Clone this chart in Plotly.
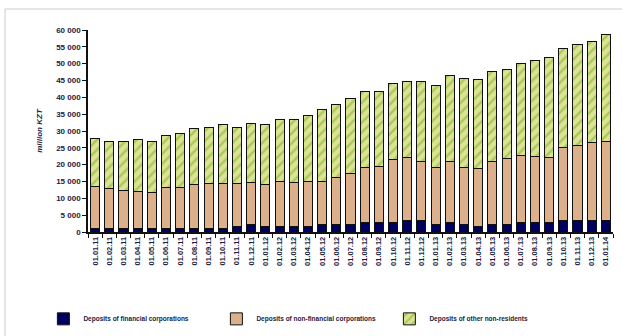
import plotly.graph_objects as go

# Monthly reporting dates
dates = ["01.01.11", "01.02.11", "01.03.11", "01.04.11", "01.05.11", "01.06.11",
         "01.07.11", "01.08.11", "01.09.11", "01.10.11", "01.11.11", "01.12.11",
         "01.01.12", "01.02.12", "01.03.12", "01.04.12", "01.05.12", "01.06.12",
         "01.07.12", "01.08.12", "01.09.12", "01.10.12", "01.11.12", "01.12.12",
         "01.01.13", "01.02.13", "01.03.13", "01.04.13", "01.05.13", "01.06.13",
         "01.07.13", "01.08.13", "01.09.13", "01.10.13", "01.11.13", "01.12.13",
         "01.01.14"]

# Deposits, million KZT
financial = [1000, 1000, 1000, 1000, 1000, 1000, 1000, 1100, 1100, 1100, 1500, 2300,
             1700, 1700, 1700, 1700, 2300, 2300, 2300, 2800, 2800, 2800, 3500, 3300,
             2200, 2800, 2200, 1700, 2200, 2200, 2800, 2800, 2800, 3300, 3500, 3500,
             3500]
non_financial = [12500, 11800, 11200, 11100, 10600, 12300, 12300, 13000, 13400, 13400,
                 13000, 12500, 12300, 13200, 13000, 13200, 12600, 14000, 15100, 16500,
                 16800, 18600, 18500, 17700, 17100, 18200, 17100, 17100, 18800, 19500,
                 19900, 19600, 19400, 21900, 22200, 23000, 23400]
other = [14200, 14200, 14800, 15500, 15400, 15400, 16100, 16500, 16600, 17400,
         16600, 17500, 17900, 18400, 18800, 19800, 21400, 21500, 22300, 22400,
         22100, 22600, 22700, 23700, 24200, 25600, 26400, 26500, 26600, 26700,
         27400, 28500, 29700, 29400, 30100, 30100, 31700]

series_names = ["Deposits of financial corporations",
                "Deposits of non-financial corporations",
                "Deposits of other non-residents"]

outline = dict(color="#111111", width=1)

fig = go.Figure()
fig.add_trace(go.Bar(x=dates, y=financial, name=series_names[0],
                     marker=dict(color="#00005e", line=outline)))
fig.add_trace(go.Bar(x=dates, y=non_financial, name=series_names[1],
                     marker=dict(color="#dcb08a", line=outline)))
fig.add_trace(go.Bar(x=dates, y=other, name=series_names[2],
                     marker=dict(color="#d8dc92", line=outline,
                                 pattern=dict(shape="/", fgcolor="#74b01c",
                                              bgcolor="#dde294", size=7,
                                              solidity=0.35))))

font_main = "Liberation Sans, Arial, sans-serif"

fig.update_layout(
    width=622, height=336,
    barmode="stack", bargap=0.36,
    margin=dict(l=88, r=9, t=30, b=104, autoexpand=False),
    paper_bgcolor="white", plot_bgcolor="white",
    separators=". ",
    font=dict(family=font_main, color="#1c1c40"),
    showlegend=True,
    legend=dict(orientation="h", x=-0.085, y=-0.43, xanchor="left", yanchor="middle",
                font=dict(size=6.5, color="#1c1c40", weight="bold"),
                entrywidth=128, entrywidthmode="pixels",
                itemwidth=30, tracegroupgap=0, traceorder="normal"),
    xaxis=dict(type="category", tickangle=-90, tickson="boundaries",
               showline=True, linecolor="#111111", linewidth=1.5,
               ticks="outside", ticklen=4, tickcolor="#111111",
               tickfont=dict(size=7.5, color="#1c1c40", weight="bold"),
               showgrid=False, zeroline=False, automargin=False),
    yaxis=dict(range=[0, 60000], dtick=5000, tickformat=",d",
               showline=True, linecolor="#111111", linewidth=1.5,
               ticks="outside", ticklen=4, tickcolor="#111111",
               tickfont=dict(size=8, color="#1c1c40", weight="bold"),
               showgrid=False, zeroline=False, automargin=False,
               title=dict(text="<b><i>million KZT</i></b>", standoff=12,
                          font=dict(size=8, color="#1c1c40"))),
    shapes=[
        dict(type="line", xref="paper", yref="paper", x0=-0.158, x1=1.05,
             y0=1.104, y1=1.104, line=dict(color="#dddddd", width=1.5)),
        dict(type="line", xref="paper", yref="paper", x0=-0.158, x1=-0.158,
             y0=1.104, y1=-0.55, line=dict(color="#dddddd", width=1.5)),
    ],
)

fig.write_html("out.html")
